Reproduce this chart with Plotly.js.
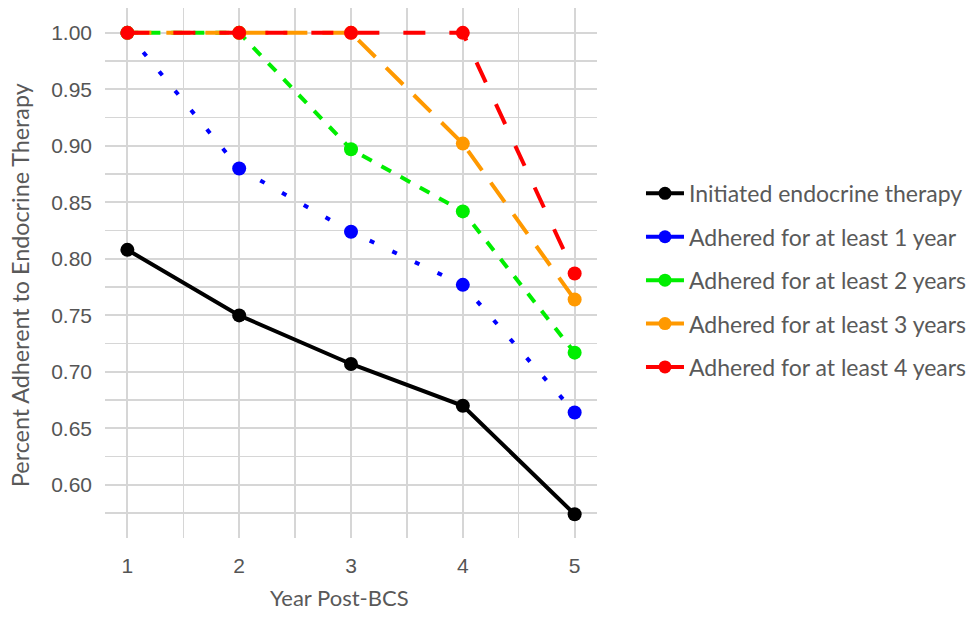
<!DOCTYPE html>
<html>
<head>
<meta charset="utf-8">
<script src="https://cdn.plot.ly/plotly-3.0.1.min.js"></script>
<style>html,body{margin:0;padding:0;background:#fff;}#chart{width:969px;height:618px;}</style>
</head>
<body>
<div id="chart"></div>
<script>
const years = [1, 2, 3, 4, 5];
const initiated = [0.808, 0.750, 0.707, 0.670, 0.574];
const adhered1 = [1.000, 0.880, 0.824, 0.777, 0.664];
const adhered2 = [1.000, 1.000, 0.897, 0.842, 0.717];
const adhered3 = [1.000, 1.000, 1.000, 0.902, 0.764];
const adhered4 = [1.000, 1.000, 1.000, 1.000, 0.787];
const seriesNames = [
  "Initiated endocrine therapy",
  "Adhered for at least 1 year",
  "Adhered for at least 2 years",
  "Adhered for at least 3 years",
  "Adhered for at least 4 years"
];
const yTicks = [0.60, 0.65, 0.70, 0.75, 0.80, 0.85, 0.90, 0.95, 1.00];
const xTitle = "Year Post-BCS";
const yTitle = "Percent Adherent to Endocrine Therapy";

const seriesValues = [initiated, adhered1, adhered2, adhered3, adhered4];
const colors = ["#000000", "#0000ff", "#00ee00", "#ff9900", "#ff0000"];
const dashes = ["solid", "5px,20px", "11px,11px", "24px,15px", "22px,24px"];

const traces = seriesValues.map((vals, i) => ({
  x: years, y: vals, name: seriesNames[i], type: "scatter", mode: "lines+markers",
  showlegend: false,
  line: {color: colors[i], width: 4, dash: dashes[i]},
  marker: {color: colors[i], size: 14, symbol: "circle"}
}));
// legend keys (solid, as in the reference legend)
const legendKeys = seriesNames.map((nm, i) => ({
  x: [null], y: [null], name: nm, type: "scatter", mode: "lines+markers",
  legendgroup: "g" + i, showlegend: true,
  line: {color: colors[i], width: 4, dash: "solid"},
  marker: {color: colors[i], size: 13, symbol: "circle"}
}));

const gridC = "#d6d6d6";
const titleFont = "Lato, 'Open Sans', sans-serif";
const tickFont = "'Liberation Sans', Arial, sans-serif";
const layout = {
  width: 969, height: 618,
  margin: {l: 105, r: 372, t: 8, b: 80, autoexpand: false},
  paper_bgcolor: "#fff", plot_bgcolor: "#fff",
  showlegend: true,
  legend: {
    x: 1.0894, xanchor: "left", y: 0.486, yanchor: "middle",
    font: {family: titleFont, size: 23, color: "#595959"},
    tracegroupgap: 10.5, itemwidth: 38, bgcolor: "rgba(0,0,0,0)"
  },
  xaxis: {
    range: [0.8, 5.2], tickvals: years, ticktext: years.map(String),
    showgrid: true, gridcolor: gridC, gridwidth: 1.8,
    minor: {dtick: 0.5, tick0: 0.5, showgrid: true, gridcolor: gridC, gridwidth: 1.5},
    zeroline: false, showline: false, ticks: "",
    ticklabelstandoff: 13,
    tickfont: {family: tickFont, size: 21, color: "#555555"}
  },
  yaxis: {
    range: [0.553, 1.022], tickvals: yTicks, ticktext: yTicks.map(v => v.toFixed(2)),
    showgrid: true, gridcolor: gridC, gridwidth: 1.8,
    minor: {dtick: 0.025, tick0: 0.575, showgrid: true, gridcolor: gridC, gridwidth: 1.5},
    zeroline: false, showline: false, ticks: "",
    ticklabelstandoff: 12,
    tickfont: {family: tickFont, size: 21, color: "#555555"}
  },
  annotations: [
    {text: xTitle, xref: "paper", yref: "paper", x: 0.5, y: -0.113, xanchor: "center", yanchor: "middle",
     xshift: -12, showarrow: false, font: {family: titleFont, size: 22, color: "#595959"}},
    {text: yTitle, xref: "paper", yref: "paper", x: 0, y: 0.5, xanchor: "center", yanchor: "middle",
     xshift: -85, yshift: -12, textangle: -90, showarrow: false, font: {family: titleFont, size: 23.3, color: "#595959"}}
  ]
};

Plotly.newPlot("chart", traces.concat(legendKeys), layout, {displayModeBar: false, staticPlot: true});
</script>
</body>
</html>
